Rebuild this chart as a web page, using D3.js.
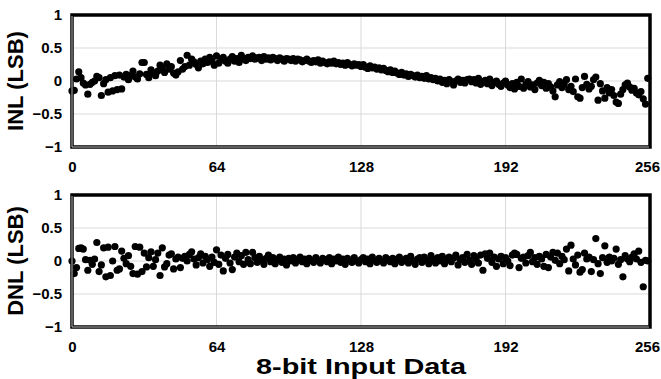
<!DOCTYPE html>
<html>
<head>
<meta charset="utf-8">
<script src="https://cdn.jsdelivr.net/npm/d3@7"></script>
<style>
  body { margin: 0; background: #fff; }
  svg { display: block; font-family: "Liberation Sans", Arial, sans-serif; }
</style>
</head>
<body>
<div id="chart"></div>
<script>
// measured INL per input code (0..255)
const inl = [
  -0.15, -0.14, 0.03, 0.14, 0.05, -0.03, -0.06, -0.20, -0.05, -0.02, 0.00, 0.07, 0.05, -0.22, -0.04, 0.02,
  -0.17, 0.05, -0.15, 0.08, -0.13, 0.09, -0.12, 0.06, 0.10, 0.02, 0.08, 0.15, 0.06, 0.03, 0.11, 0.28,
  0.28, 0.10, 0.05, 0.17, 0.12, 0.08, 0.15, 0.24, 0.20, 0.13, 0.26, 0.18, 0.22, 0.12, 0.09, 0.14,
  0.31, 0.18, 0.22, 0.39, 0.24, 0.33, 0.29, 0.25, 0.20, 0.30, 0.26, 0.33, 0.28, 0.36, 0.30, 0.24,
  0.38, 0.27, 0.32, 0.36, 0.30, 0.27, 0.33, 0.37, 0.30, 0.34, 0.28, 0.39, 0.33, 0.31, 0.36, 0.34,
  0.38, 0.33, 0.35, 0.36, 0.31, 0.37, 0.33, 0.35, 0.32, 0.36, 0.34, 0.31, 0.35, 0.33, 0.30, 0.34,
  0.33, 0.31, 0.34, 0.30, 0.33, 0.32, 0.29, 0.31, 0.33, 0.30, 0.28, 0.31, 0.29, 0.32, 0.27, 0.30,
  0.28, 0.26, 0.29, 0.27, 0.30, 0.26, 0.28, 0.25, 0.27, 0.24, 0.28, 0.25, 0.23, 0.26, 0.24, 0.25,
  0.22, 0.25, 0.21, 0.19, 0.23, 0.20, 0.21, 0.18, 0.20, 0.17, 0.19, 0.16, 0.14, 0.17, 0.13, 0.15,
  0.12, 0.10, 0.13, 0.09, 0.11, 0.07, 0.10, 0.08, 0.06, 0.09, 0.05, 0.07, 0.04, 0.08, 0.03, 0.05,
  0.02, 0.04, 0.00, 0.03, -0.02, 0.01, -0.04, 0.02, -0.01, -0.06, 0.00, 0.03, -0.02, 0.01, -0.03, 0.02,
  0.03, -0.01, 0.02, -0.03, 0.04, -0.05, -0.02, 0.01, -0.04, 0.03, -0.07, -0.02, 0.00, -0.05, -0.08, -0.03,
  0.00, -0.06, -0.10, -0.04, -0.12, -0.02, -0.08, 0.03, -0.11, -0.05, -0.01, -0.09, -0.06, -0.13, -0.03, 0.01,
  -0.07, -0.02, -0.11, -0.04, -0.09, -0.15, -0.24, -0.06, -0.01, -0.10, -0.05, 0.02, -0.13, -0.08, -0.16, 0.03,
  -0.24, -0.26, -0.10, 0.07, -0.05, -0.12, -0.08, 0.02, 0.06, -0.29, -0.04, -0.15, -0.26, -0.10, -0.18, -0.13,
  -0.22, -0.32, -0.34, -0.20, -0.13, -0.06, -0.03, -0.09, -0.14, -0.11, -0.18, -0.21, -0.16, -0.27, -0.35, 0.04
];

// measured DNL per input code (0..255)
const dnl = [
  0.00, -0.19, -0.10, 0.19, 0.20, 0.18, 0.02, -0.14, 0.01, -0.05, 0.03, 0.28, -0.16, -0.06, 0.20, -0.24,
  0.21, -0.22, 0.00, 0.22, -0.14, -0.12, 0.15, 0.04, -0.04, 0.08, -0.08, -0.19, 0.22, -0.20, 0.21, -0.16,
  0.12, -0.09, 0.05, 0.14, -0.08, 0.02, 0.12, -0.22, 0.20, -0.09, -0.04, 0.09, 0.11, -0.12, 0.03, 0.06,
  -0.10, 0.04, 0.07, 0.00, 0.10, 0.14, 0.03, -0.06, 0.05, 0.11, -0.03, 0.07, 0.02, -0.08, 0.06, -0.02,
  0.17, -0.05, 0.09, -0.15, 0.04, 0.10, -0.03, -0.13, 0.06, 0.12, -0.01, 0.08, -0.05, 0.13, 0.02, -0.04,
  0.13, 0.05, -0.02, 0.07, 0.01, -0.05, 0.04, 0.09, -0.01, 0.05, -0.04, 0.02, 0.06, -0.02, 0.03, -0.06,
  0.04, 0.00, 0.05, -0.03, 0.02, 0.06, -0.01, 0.03, -0.04, 0.04, 0.01, -0.02, 0.05, 0.00, -0.03, 0.04,
  0.02, -0.01, 0.05, -0.04, 0.03, 0.00, 0.06, -0.02, 0.03, -0.05, 0.04, 0.01, -0.02, 0.05, 0.00, -0.03,
  0.02, 0.05, -0.01, 0.03, -0.04, 0.06, 0.01, -0.02, 0.04, 0.00, -0.03, 0.05, 0.02, -0.01, 0.04, -0.04,
  0.03, 0.06, -0.02, 0.01, 0.04, -0.03, 0.07, 0.00, -0.05, 0.03, 0.05, -0.02, 0.06, 0.01, -0.04, 0.08,
  0.02, -0.03, 0.05, 0.00, 0.07, -0.04, 0.03, 0.06, -0.01, 0.04, 0.09, -0.06, 0.02, 0.05, -0.02, 0.10,
  0.01, -0.05, 0.08, 0.03, -0.03, 0.09, -0.14, 0.11, 0.04, 0.12, -0.02, 0.06, -0.08, 0.03, 0.07, -0.04,
  0.05, 0.00, -0.07, 0.09, 0.12, 0.10, -0.10, 0.04, 0.06, -0.03, 0.08, 0.13, -0.01, 0.05, -0.05, 0.07,
  0.03, -0.08, 0.10, -0.10, 0.06, 0.13, 0.01, 0.12, -0.04, 0.07, 0.02, 0.18, -0.15, 0.24, 0.03, -0.06,
  0.09, -0.17, -0.13, 0.12, 0.03, 0.06, -0.16, 0.02, 0.34, -0.04, -0.19, 0.05, 0.23, -0.02, 0.06, 0.00,
  0.04, 0.18, -0.05, 0.02, -0.24, 0.08, 0.03, -0.01, 0.06, 0.11, 0.03, 0.15, -0.02, -0.39, 0.01, 0.00
];

const xTicks = [0, 64, 128, 192, 256];
const yTicks = [-1, -0.5, 0, 0.5, 1];
const panels = [
  { name: "INL (LSB)", values: inl },
  { name: "DNL (LSB)", values: dnl }
];
const xTitle = "8-bit Input Data";

const width = 661, height = 379;
const left = 72, right = 650;
const panelTop = [15, 195];
const panelH = 132;

const svg = d3.select("#chart").append("svg")
  .attr("width", width)
  .attr("height", height);

const x = d3.scaleLinear().domain([0, 256]).range([left, right]);

panels.forEach((p, i) => {
  const top = panelTop[i];
  const bottom = top + panelH;
  const y = d3.scaleLinear().domain([-1, 1]).range([bottom, top]);
  const g = svg.append("g");

  // grid
  g.append("g").selectAll("line.h")
    .data(yTicks.filter(t => t > -1 && t < 1))
    .join("line")
    .attr("x1", left).attr("x2", right)
    .attr("y1", d => y(d)).attr("y2", d => y(d))
    .attr("stroke", "#d9d9d9").attr("stroke-width", 1);
  g.append("g").selectAll("line.v")
    .data(xTicks.filter(t => t > 0 && t < 256))
    .join("line")
    .attr("x1", d => x(d)).attr("x2", d => x(d))
    .attr("y1", top).attr("y2", bottom)
    .attr("stroke", "#d9d9d9").attr("stroke-width", 1);

  // points
  g.append("g").selectAll("circle")
    .data(p.values)
    .join("circle")
    .attr("cx", (d, k) => x(k))
    .attr("cy", d => y(d))
    .attr("r", 3.6)
    .attr("fill", "#000");

  // frame
  g.append("rect")
    .attr("x", left).attr("y", top)
    .attr("width", right - left).attr("height", panelH)
    .attr("fill", "none").attr("stroke", "#000").attr("stroke-width", 3.5);
  g.append("path")
    .attr("d", `M${left},${top + 1}V${bottom}H${right - 1}`)
    .attr("fill", "none").attr("stroke", "#bbb").attr("stroke-width", 1);

  // y axis labels
  const ya = g.append("g")
    .attr("transform", `translate(${left - 4},0)`)
    .call(d3.axisLeft(y).tickValues(yTicks).tickSize(0).tickPadding(6)
      .tickFormat(d => d3.format("")(d)));
  ya.select(".domain").remove();
  ya.selectAll("text")
    .attr("font-family", "Liberation Sans, Arial, sans-serif")
    .attr("font-size", 15).attr("font-weight", "bold").attr("fill", "#000");

  // x axis labels; last one nudged so it stays on the page
  const xa = g.append("g")
    .attr("transform", `translate(0,${bottom + 4})`)
    .call(d3.axisBottom(x).tickValues(xTicks).tickSize(0).tickPadding(10));
  xa.select(".domain").remove();
  xa.selectAll("text")
    .attr("font-family", "Liberation Sans, Arial, sans-serif")
    .attr("font-size", 15).attr("font-weight", "bold").attr("fill", "#000")
    .attr("dx", d => d === 256 ? -3 : 0);

  // axis title
  svg.append("text")
    .attr("transform", `translate(23,${(top + bottom) / 2}) rotate(-90)`)
    .attr("text-anchor", "middle")
    .attr("font-size", 22).attr("font-weight", "bold")
    .text(p.name);
});

svg.append("text")
  .attr("x", (left + right) / 2 - 105)
  .attr("y", 374)
  .attr("font-size", 22).attr("font-weight", "bold")
  .attr("textLength", 210)
  .attr("lengthAdjust", "spacingAndGlyphs")
  .text(xTitle);
</script>
</body>
</html>
